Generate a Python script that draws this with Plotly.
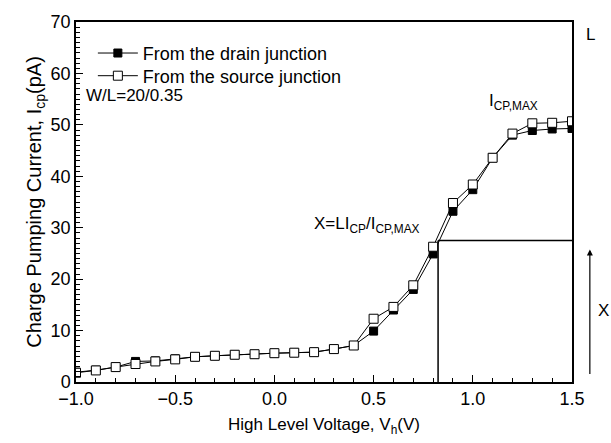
import plotly.graph_objects as go

# Data
vh = [-1.0, -0.9, -0.8, -0.7, -0.6, -0.5, -0.4, -0.3, -0.2, -0.1, 0.0, 0.1, 0.2,
      0.3, 0.4, 0.5, 0.6, 0.7, 0.8, 0.9, 1.0, 1.1, 1.2, 1.3, 1.4, 1.5]
icp_drain = [1.9, 2.3, 2.9, 4.0, 4.1, 4.5, 4.9, 5.1, 5.3, 5.4, 5.6, 5.7, 5.8,
             6.4, 7.1, 9.9, 14.0, 18.0, 24.9, 33.2, 37.4, 43.6, 48.0, 48.9, 49.2, 49.3]
icp_source = [1.8, 2.25, 2.9, 3.5, 4.0, 4.4, 4.9, 5.1, 5.3, 5.4, 5.6, 5.7, 5.8,
              6.4, 7.1, 12.3, 14.6, 18.8, 26.3, 34.8, 38.4, 43.6, 48.3, 50.3, 50.4, 50.7]
series_names = ["From the drain junction", "From the source junction"]
x_mark = 0.825
y_mark = 27.5
x_max = 1.5

FONT = "Liberation Sans, Arial, sans-serif"

fig = go.Figure()
fig.add_trace(go.Scatter(
    x=vh, y=icp_drain, mode="lines+markers", name=series_names[0], legend="legend",
    line=dict(color="black", width=1),
    marker=dict(symbol="square", size=8, color="black", line=dict(color="black", width=1)),
))
fig.add_trace(go.Scatter(
    x=vh, y=icp_source, mode="lines+markers", name=series_names[1], legend="legend2",
    line=dict(color="black", width=1),
    marker=dict(symbol="square", size=9, color="white", line=dict(color="black", width=1)),
))

# reference lines for X construction
fig.add_shape(type="line", x0=x_mark, x1=x_mark, y0=0, y1=y_mark,
              line=dict(color="black", width=1.5), layer="below")
fig.add_shape(type="line", x0=x_mark, x1=x_max, y0=y_mark, y1=y_mark,
              line=dict(color="black", width=1.5), layer="below")

annots = [
    dict(text="W/L=20/0.35", x=0.016, y=0.796, xref="paper", yref="paper",
         xanchor="left", yanchor="middle", showarrow=False, font=dict(size=17)),
    dict(text="X=LI<sub>CP</sub>/I<sub>CP,MAX</sub>", x=0.745, y=30.5, xref="x", yref="y",
         xanchor="right", yanchor="middle", showarrow=False, font=dict(size=17)),
    dict(text="I<sub>CP,MAX</sub>", x=1.072, y=54.5, xref="x", yref="y",
         xanchor="left", yanchor="middle", showarrow=False, font=dict(size=17)),
    dict(text="L", x=1.024, y=0.965, xref="paper", yref="paper",
         xanchor="left", yanchor="middle", showarrow=False, font=dict(size=17)),
    dict(text="X", x=1.048, y=0.20, xref="paper", yref="paper",
         xanchor="left", yanchor="middle", showarrow=False, font=dict(size=17)),
    dict(text="", x=1.036, y=0.368, xref="paper", yref="paper",
         showarrow=True, ax=0, ay=126, axref="pixel", ayref="pixel",
         arrowhead=2, arrowsize=1, arrowwidth=1.2, arrowcolor="black"),
]

leg_common = dict(xanchor="left", yanchor="middle", bgcolor="rgba(0,0,0,0)",
                  font=dict(size=18), itemwidth=40)

fig.update_layout(
    width=611, height=443,
    margin=dict(l=76, r=39, t=15, b=61),
    paper_bgcolor="white", plot_bgcolor="white",
    font=dict(family=FONT, size=17, color="black"),
    showlegend=True,
    legend=dict(x=0.034, y=0.913, **leg_common),
    legend2=dict(x=0.034, y=0.850, **leg_common),
    annotations=annots,
)

fig.update_xaxes(
    range=[-1.0, 1.5], dtick=0.5, tick0=-1.0, tickformat=".1f",
    showline=True, linecolor="black", linewidth=1.5, mirror=True,
    ticks="inside", ticklen=7, tickwidth=1.2, tickcolor="black",
    minor=dict(dtick=0.1, ticks="inside", ticklen=4, tickcolor="black", showgrid=False),
    showgrid=False, zeroline=False,
    tickfont=dict(size=18),
    title=dict(text="High Level Voltage, V<sub>h</sub>(V)", font=dict(size=17), standoff=10),
)
fig.update_yaxes(
    range=[0, 70], dtick=10,
    showline=True, linecolor="black", linewidth=1.5, mirror=True,
    ticks="inside", ticklen=7, tickwidth=1.2, tickcolor="black",
    minor=dict(dtick=1, ticks="inside", ticklen=4, tickcolor="black", showgrid=False),
    showgrid=False, zeroline=False,
    tickfont=dict(size=18),
    title=dict(text="Charge Pumping Current, I<sub>cp</sub>(pA)", font=dict(size=20), standoff=4),
)

fig.write_html("out.html")
